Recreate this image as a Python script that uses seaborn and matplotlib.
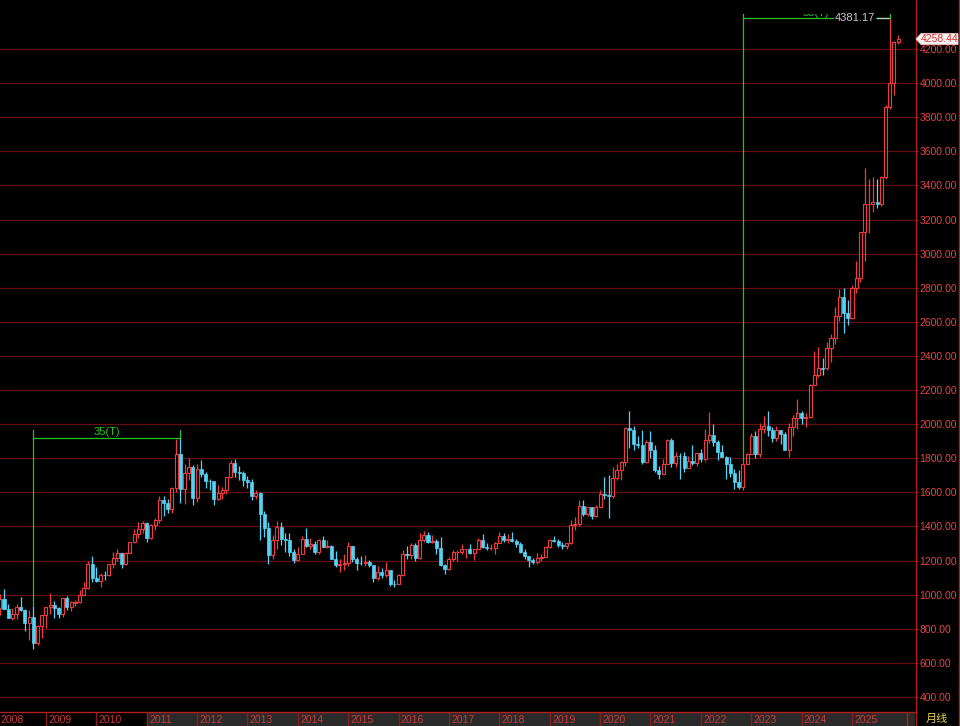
import numpy as np
import pandas as pd
import matplotlib
matplotlib.use("Agg")
import matplotlib.pyplot as plt
import matplotlib.transforms as mtransforms
from matplotlib.patches import Polygon
from matplotlib.lines import Line2D
import seaborn as sns

# ---------------- data (monthly OHLC, Jan 2008 .. Dec 2025) ----------------
start_year = 2008
years = list(range(2008, 2026))
price_ticks = [400, 600, 800, 1000, 1200, 1400, 1600, 1800, 2000, 2200, 2400,
               2600, 2800, 3000, 3200, 3400, 3600, 3800, 4000, 4200]

open_ = [
    834, 923, 972, 916, 863, 886, 929, 912, 833, 872, 718, 815,            # 2008
    882, 928, 942, 924, 884, 980, 927, 953, 955, 1001, 1040, 1182,         # 2009
    1097, 1083, 1118, 1113, 1180, 1213, 1244, 1181, 1247, 1307, 1358, 1386,  # 2010
    1421, 1333, 1410, 1439, 1557, 1536, 1501, 1628, 1826, 1620, 1714, 1746,  # 2011
    1565, 1738, 1710, 1669, 1664, 1560, 1598, 1614, 1688, 1773, 1719, 1712,  # 2012
    1675, 1663, 1579, 1597, 1472, 1393, 1234, 1323, 1395, 1327, 1323, 1253,  # 2013
    1202, 1240, 1326, 1284, 1296, 1250, 1322, 1282, 1287, 1210, 1172, 1182,  # 2014
    1184, 1284, 1212, 1184, 1183, 1190, 1172, 1095, 1133, 1115, 1142, 1065,  # 2015
    1061, 1118, 1238, 1233, 1293, 1215, 1322, 1351, 1309, 1316, 1276, 1173,  # 2016
    1151, 1211, 1248, 1249, 1268, 1268, 1242, 1269, 1322, 1280, 1271, 1275,  # 2017
    1302, 1345, 1318, 1325, 1315, 1299, 1253, 1224, 1201, 1191, 1215, 1222,  # 2018
    1282, 1321, 1313, 1292, 1284, 1305, 1409, 1413, 1520, 1472, 1513, 1464,  # 2019
    1517, 1589, 1585, 1577, 1686, 1730, 1781, 1975, 1967, 1886, 1879, 1776,  # 2020
    1895, 1847, 1734, 1708, 1769, 1906, 1770, 1815, 1814, 1743, 1783, 1775,  # 2021
    1829, 1797, 1909, 1937, 1897, 1837, 1807, 1766, 1711, 1660, 1633, 1768,  # 2022
    1824, 1928, 1826, 1969, 1990, 1963, 1919, 1965, 1940, 1849, 1983, 2036,  # 2023
    2063, 2039, 2044, 2230, 2286, 2327, 2327, 2447, 2503, 2634, 2744, 2653,  # 2024
    2625, 2798, 2858, 3124, 3289, 3289, 3303, 3290, 3448, 3858, 4003, 4239,  # 2025
]
high = [
    924, 1002, 1033, 948, 921, 943, 988, 915, 913, 935, 825, 882,
    928, 1007, 962, 926, 981, 991, 962, 966, 1025, 1072, 1195, 1227,
    1162, 1128, 1139, 1181, 1249, 1266, 1245, 1249, 1308, 1388, 1424, 1432,
    1424, 1412, 1448, 1576, 1577, 1561, 1632, 1913, 1921, 1764, 1803, 1763,
    1764, 1791, 1718, 1678, 1667, 1641, 1630, 1693, 1790, 1796, 1755, 1727,
    1694, 1679, 1616, 1605, 1488, 1424, 1348, 1434, 1425, 1361, 1361, 1267,
    1280, 1346, 1392, 1331, 1315, 1326, 1345, 1322, 1290, 1255, 1208, 1238,
    1307, 1285, 1219, 1224, 1232, 1205, 1174, 1170, 1157, 1191, 1142, 1088,
    1123, 1263, 1283, 1303, 1304, 1362, 1375, 1367, 1352, 1326, 1338, 1180,
    1220, 1264, 1262, 1296, 1270, 1296, 1270, 1331, 1357, 1306, 1299, 1309,
    1366, 1361, 1356, 1365, 1326, 1309, 1265, 1225, 1214, 1243, 1237, 1284,
    1326, 1347, 1324, 1310, 1306, 1439, 1453, 1555, 1557, 1517, 1516, 1525,
    1611, 1689, 1704, 1748, 1765, 1785, 1981, 2075, 1992, 1933, 1966, 1906,
    1959, 1875, 1756, 1798, 1913, 1917, 1834, 1832, 1834, 1814, 1877, 1831,
    1853, 1974, 2070, 1998, 1910, 1879, 1814, 1808, 1735, 1730, 1787, 1833,
    1949, 1959, 2009, 2049, 2079, 1984, 1987, 1968, 1953, 2009, 2052, 2146,
    2079, 2065, 2236, 2431, 2450, 2388, 2483, 2531, 2685, 2790, 2801, 2726,
    2817, 2956, 3128, 3500, 3435, 3452, 3439, 3453, 3871, 4381.17, 4245, 4285,
]
low = [
    834, 880, 915, 862, 850, 860, 905, 786, 736, 681, 705, 744,
    802, 889, 865, 866, 868, 909, 905, 931, 952, 1000, 1033, 1075,
    1075, 1045, 1088, 1112, 1156, 1200, 1155, 1177, 1242, 1306, 1330, 1360,
    1308, 1329, 1381, 1418, 1462, 1478, 1478, 1603, 1535, 1534, 1670, 1523,
    1545, 1688, 1628, 1613, 1527, 1555, 1564, 1590, 1687, 1693, 1674, 1636,
    1626, 1555, 1562, 1321, 1338, 1180, 1208, 1270, 1292, 1251, 1227, 1187,
    1202, 1240, 1277, 1268, 1240, 1240, 1281, 1273, 1207, 1161, 1131, 1142,
    1167, 1191, 1142, 1175, 1170, 1162, 1077, 1084, 1098, 1106, 1053, 1046,
    1061, 1111, 1209, 1208, 1199, 1207, 1310, 1301, 1304, 1241, 1171, 1123,
    1146, 1200, 1195, 1241, 1214, 1236, 1204, 1267, 1271, 1260, 1264, 1236,
    1302, 1307, 1303, 1310, 1281, 1245, 1211, 1160, 1180, 1182, 1196, 1221,
    1276, 1310, 1281, 1266, 1267, 1300, 1382, 1400, 1459, 1459, 1445, 1455,
    1517, 1563, 1451, 1568, 1670, 1671, 1757, 1863, 1849, 1860, 1765, 1775,
    1802, 1717, 1677, 1705, 1766, 1751, 1751, 1677, 1721, 1740, 1759, 1753,
    1780, 1782, 1890, 1872, 1787, 1805, 1681, 1688, 1621, 1618, 1616, 1765,
    1823, 1804, 1809, 1949, 1932, 1893, 1903, 1885, 1846, 1810, 1931, 1973,
    2002, 1984, 2039, 2228, 2277, 2287, 2319, 2364, 2471, 2604, 2537, 2583,
    2614, 2772, 2833, 2957, 3121, 3247, 3268, 3282, 3436, 3850, 3930, 4230,
]
close = [
    923, 972, 916, 863, 886, 929, 912, 833, 872, 718, 815, 882,
    928, 942, 924, 884, 980, 927, 955, 955, 1001, 1040, 1182, 1097,
    1083, 1118, 1113, 1180, 1213, 1244, 1181, 1247, 1307, 1358, 1386, 1421,
    1333, 1410, 1439, 1557, 1536, 1501, 1628, 1826, 1620, 1714, 1746, 1565,
    1738, 1710, 1669, 1664, 1560, 1598, 1614, 1688, 1773, 1719, 1712, 1675,
    1663, 1579, 1597, 1472, 1393, 1234, 1323, 1395, 1327, 1323, 1253, 1202,
    1240, 1326, 1284, 1296, 1250, 1322, 1282, 1287, 1210, 1172, 1182, 1184,
    1284, 1212, 1183, 1183, 1190, 1172, 1095, 1133, 1115, 1142, 1065, 1061,
    1118, 1238, 1233, 1293, 1215, 1322, 1351, 1309, 1316, 1276, 1173, 1151,
    1211, 1248, 1249, 1268, 1269, 1242, 1269, 1322, 1280, 1271, 1275, 1302,
    1345, 1318, 1325, 1315, 1299, 1253, 1224, 1201, 1191, 1215, 1222, 1282,
    1321, 1313, 1292, 1284, 1305, 1409, 1413, 1520, 1472, 1513, 1464, 1517,
    1589, 1585, 1577, 1686, 1730, 1781, 1975, 1967, 1886, 1879, 1776, 1895,
    1847, 1734, 1708, 1769, 1906, 1770, 1814, 1814, 1743, 1783, 1775, 1829,
    1797, 1909, 1937, 1897, 1837, 1807, 1766, 1711, 1660, 1633, 1768, 1824,
    1928, 1826, 1969, 1990, 1963, 1919, 1965, 1940, 1849, 1983, 2036, 2063,
    2039, 2044, 2230, 2286, 2327, 2326, 2447, 2503, 2634, 2744, 2653, 2625,
    2798, 2858, 3124, 3289, 3289, 3303, 3290, 3448, 3858, 4003, 4239, 4258.44,
]
span_starts = ["2008-10", "2022-11"]
span_ends = ["2011-09", "2025-10"]
last_price = 4258.44
period_label = "月线"

# ---------------- style ----------------
sns.set_theme(style="dark", rc={"axes.facecolor": "black", "figure.facecolor": "black"})
plt.rcParams["font.family"] = ["Liberation Sans", "Noto Sans CJK SC", "DejaVu Sans"]

UP = "#f03c3c"
DOWN = "#54d4f4"
GRID = "#621010"
AXIS_RED = "#b01e1e"
LABEL_RED = "#e04848"
GREEN = "#22c422"

W, H = 960, 726
AX_R, AX_T, AX_B = 915, 13.5, 712
PX_PER_M, X0 = 4.198, -4.4
PX_PER_U, Y400 = 648 / 3800, 697


def px2i(px):
    return (px - X0) / PX_PER_M


def py2v(py):
    return 400 + (Y400 - py) / PX_PER_U


df = pd.DataFrame({"open": open_, "high": high, "low": low, "close": close})
df["idx"] = np.arange(len(df))
df["date"] = pd.period_range(f"{start_year}-01", periods=len(df), freq="M")
df["up"] = df["close"] >= df["open"]

fig = plt.figure(figsize=(W / 100, H / 100), dpi=100)
fig.patch.set_facecolor("black")
ax = fig.add_axes([0, (H - AX_B) / H, AX_R / W, (AX_B - AX_T) / H])
ax.set_facecolor("black")
ax.set_xlim(px2i(0), px2i(AX_R))
ax.set_ylim(py2v(AX_B), py2v(AX_T))

# grid
ax.set_yticks(price_ticks)
ax.set_yticklabels([f"{v:.2f}" for v in price_ticks])
ax.grid(False)
for v in price_ticks:
    ax.axhline(v, color=GRID, lw=0.9, zorder=0)
ax.set_xticks([])
ax.yaxis.tick_right()
ax.tick_params(axis="y", which="both", right=True, left=False, length=2.5, width=0.8,
               color=AXIS_RED, labelcolor=LABEL_RED, labelsize=7.5, pad=0.6)
for s in ax.spines.values():
    s.set_visible(False)

# candles
up = df[df["up"]]
dn = df[~df["up"]]
ax.vlines(up["idx"], up["low"], up["high"], color=UP, lw=0.9, zorder=2)
ax.vlines(dn["idx"], dn["low"], dn["high"], color=DOWN, lw=0.9, zorder=2)
ax.bar(up["idx"], (up["close"] - up["open"]), bottom=up["open"], width=0.72,
       facecolor="black", edgecolor=UP, linewidth=0.8, zorder=3)
ax.bar(dn["idx"], (dn["close"] - dn["open"]), bottom=dn["open"], width=0.72,
       facecolor=DOWN, edgecolor=DOWN, linewidth=0.5, zorder=3)

# 35(T) spans
tick_up = 8 / PX_PER_U
up_off = mtransforms.ScaledTranslation(0, 0.4 / 72, fig.dpi_scale_trans)
for s0, s1 in zip(span_starts, span_ends):
    i0 = int(df.index[df["date"] == pd.Period(s0, "M")][0])
    i1 = int(df.index[df["date"] == pd.Period(s1, "M")][0])
    top = df["high"][i1]
    ax.plot([i0, i1], [top, top], color=GREEN, lw=0.9, zorder=4)
    ax.plot([i0, i0], [df["high"][i0], top + tick_up], color=GREEN, lw=0.9, zorder=4)
    ax.plot([i1, i1], [top, top + tick_up], color=GREEN, lw=0.9, zorder=4)
    ax.text((i0 + i1) / 2, top, f"{i1 - i0}(T)", color=GREEN, fontsize=8,
            ha="center", va="bottom", transform=ax.transData + up_off,
            clip_on=True, zorder=5)

# high marker
imax = int(df["high"].idxmax())
hmax = df["high"][imax]
ax.annotate(f"{hmax:.2f}", xy=(imax, hmax), xytext=(-15, 0), textcoords="offset pixels",
            ha="right", va="center", color="#c8c8c8", fontsize=8, zorder=6,
            bbox=dict(facecolor="black", edgecolor="none", pad=0.6))
ax.plot([imax - 13 / PX_PER_M, imax - 0.2], [hmax, hmax], color="#c8c8c8", lw=0.9, zorder=6)

# bottom time strip
ax2 = fig.add_axes([0, 0, AX_R / W, (H - AX_B) / H])
ax2.set_facecolor("black")
ax2.set_xlim(px2i(0), px2i(AX_R))
ax2.set_ylim(0, 1)
ax2.axis("off")
year_idx = [12 * (y - start_year) for y in years]
ax2.axvspan(year_idx[3], px2i(AX_R), color="#2a2a2a", zorder=0)
ax2.vlines(year_idx, 0, 1, color="#8c1c1c", lw=1, zorder=1)
ax2.axvline(px2i(907), color=AXIS_RED, lw=1, zorder=1)
xl = px2i(0)
for y, i in zip(years, year_idx):
    ax2.text(max(i + 0.55, xl + 0.1), 0.45, str(y), color="#cc3a3a", fontsize=7.5,
             ha="left", va="center", zorder=2)

# frame lines
fig.add_artist(Line2D([0, AX_R / W], [1 - AX_B / H] * 2, transform=fig.transFigure,
                      color=AXIS_RED, lw=1))
fig.add_artist(Line2D([(AX_R + 0.5) / W] * 2, [0, 1], transform=fig.transFigure,
                      color=AXIS_RED, lw=1))
fig.add_artist(Line2D([958.5 / W] * 2, [0, 1], transform=fig.transFigure,
                      color=AXIS_RED, lw=1))

# period label
fig.text(937 / W, 1 - 719 / H, period_label, color="#e6d24a", fontsize=8,
         ha="center", va="center", family=["Noto Sans CJK SC", "DejaVu Sans"])

# current price tag
yp = (Y400 - (last_price - 400) * PX_PER_U)
pts = [(916, yp), (921, yp - 5.5), (958, yp - 5.5), (958, yp + 5.5), (921, yp + 5.5)]
fig.add_artist(Polygon([(x / W, 1 - y / H) for x, y in pts], closed=True,
                       transform=fig.transFigure, facecolor="#f4f4f4",
                       edgecolor="#f4c0c0", lw=0.6, zorder=10))
fig.text(939.5 / W, 1 - yp / H, f"{last_price:.2f}", color="#e03030", fontsize=7.5,
         ha="center", va="center", zorder=11)

fig.savefig("out.png", dpi=100, facecolor="black")
